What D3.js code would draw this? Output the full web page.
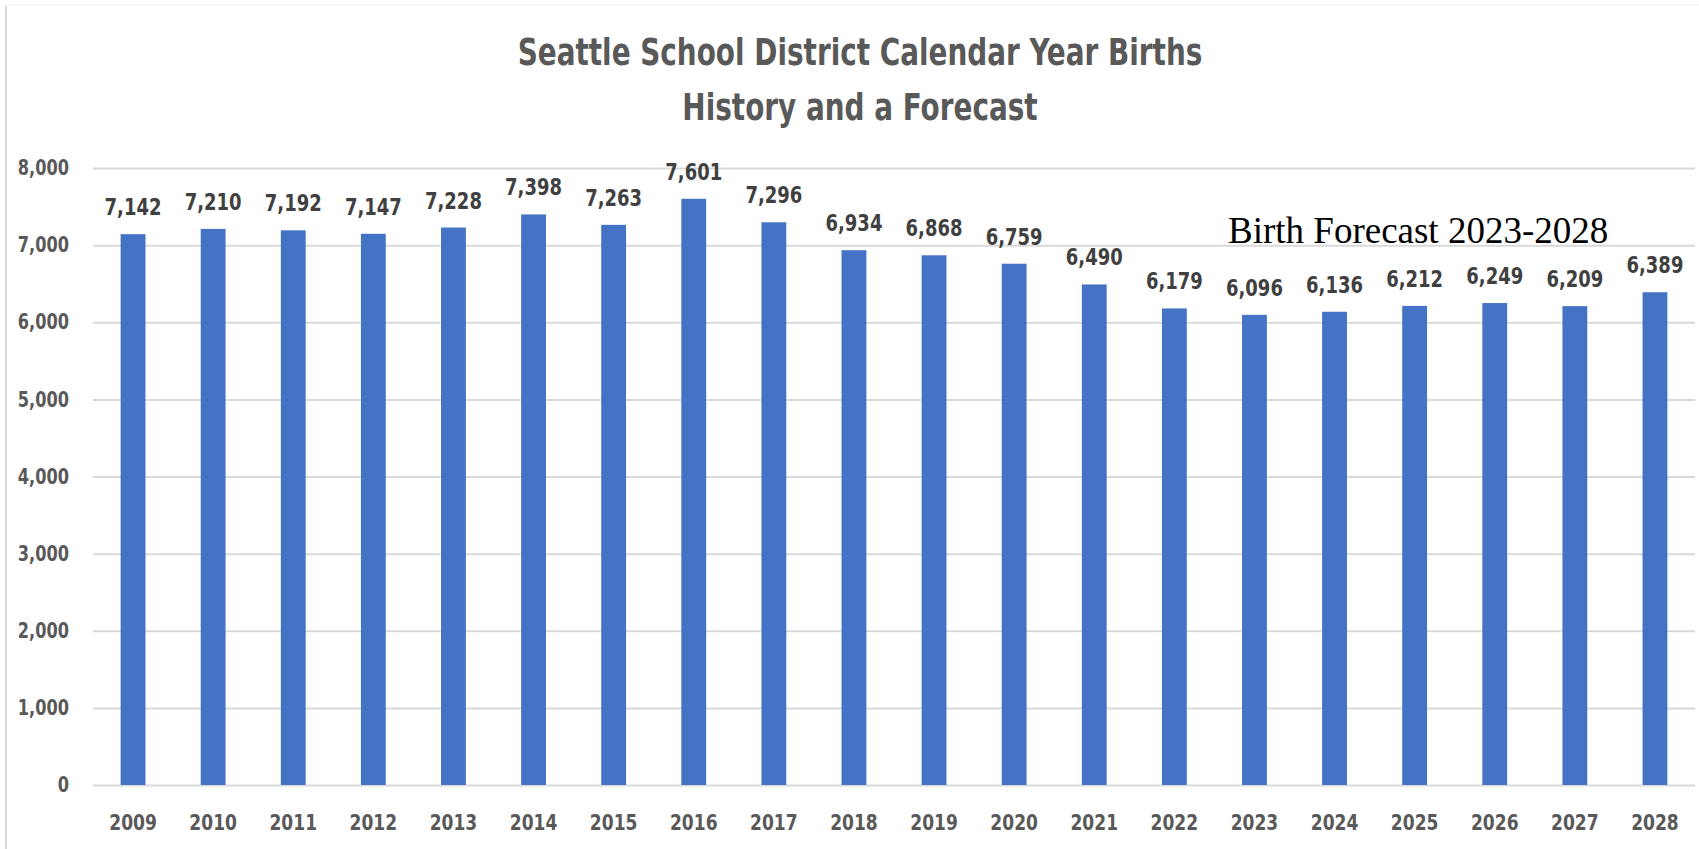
<!DOCTYPE html>
<html>
<head>
<meta charset="utf-8">
<script src="https://cdn.jsdelivr.net/npm/d3@7"></script>
<style>
    html, body { margin: 0; padding: 0; background: #fff; }
    #chart { width: 1699px; height: 849px; }
    .lbl { font-family: "Liberation Sans Narrow", "DejaVu Sans Condensed", "Open Sans", sans-serif; font-weight: bold; }
</style>
</head>
<body>
<div id="chart"></div>
<script>
// chart data
const years = ["2009", "2010", "2011", "2012", "2013", "2014", "2015", "2016", "2017", "2018",
    "2019", "2020", "2021", "2022", "2023", "2024", "2025", "2026", "2027", "2028"];
const births = [7142, 7210, 7192, 7147, 7228, 7398, 7263, 7601, 7296, 6934,
    6868, 6759, 6490, 6179, 6096, 6136, 6212, 6249, 6209, 6389];
const yTicks = [0, 1000, 2000, 3000, 4000, 5000, 6000, 7000, 8000];
const titleLines = ["Seattle School District Calendar Year Births", "History and a Forecast"];
const noteText = "Birth Forecast 2023-2028";

function renderBarChart() {
    const width = 1699;
    const height = 849;
    const left = 93, right = 1695, top = 168, bottom = 785;
    // the original screenshot is a bit stretched vertically
    const stretch = 1.15;

    const svg = d3
        .select("#chart")
        .append("svg")
        .attr("width", width)
        .attr("height", height);

    // faint frame of the pasted chart
    svg.append("line")
        .attr("x1", 6).attr("x2", 6).attr("y1", 5).attr("y2", height)
        .style("stroke", "#d9d9d9").style("stroke-width", 2);
    svg.append("line")
        .attr("x1", 6).attr("x2", width).attr("y1", 5).attr("y2", 5)
        .style("stroke", "#f4f4f4").style("stroke-width", 1.5);

    const x = d3
        .scaleBand()
        .domain(years)
        .range([left, right])
        .paddingInner(0.69)
        .paddingOuter(0.345);

    const y = d3.scaleLinear().domain([0, 8000]).range([bottom, top]);

    // y axis + gridlines
    const yAxis = svg
        .append("g")
        .attr("transform", `translate(${left},0)`)
        .call(
            d3.axisLeft(y)
                .tickValues(yTicks)
                .tickSize(-(right - left))
                .tickPadding(24)
                .tickFormat(d3.format(","))
        );
    yAxis.select(".domain").remove();
    yAxis.selectAll(".tick line")
        .style("stroke", "#d9d9d9")
        .style("stroke-width", 2);
    yAxis.selectAll(".tick text")
        .attr("class", "lbl")
        .attr("transform", `scale(1,${stretch})`)
        .style("font-size", "18px")
        .style("fill", "#595959");

    // x axis labels
    const xAxis = svg
        .append("g")
        .attr("transform", `translate(0,${bottom})`)
        .call(d3.axisBottom(x).tickSize(0).tickPadding(0));
    xAxis.select(".domain").remove();
    xAxis.selectAll(".tick text")
        .attr("class", "lbl")
        .attr("y", 45 / stretch)
        .attr("dy", 0)
        .attr("transform", `scale(1,${stretch})`)
        .style("font-size", "19px")
        .style("fill", "#595959");

    // bars
    svg.selectAll(".bar")
        .data(years)
        .enter()
        .append("rect")
        .attr("class", "bar")
        .attr("x", (d) => x(d))
        .attr("width", x.bandwidth())
        .attr("y", (d, i) => y(births[i]))
        .attr("height", (d, i) => y(0) - y(births[i]))
        .style("fill", "#4472c4");

    // value labels
    svg.selectAll(".val")
        .data(years)
        .enter()
        .append("g")
        .attr("class", "val")
        .attr("transform", (d, i) => `translate(${x(d) + x.bandwidth() / 2},${y(births[i]) - 19}) scale(1,${stretch})`)
        .append("text")
        .attr("class", "lbl")
        .attr("text-anchor", "middle")
        .style("font-size", "20px")
        .style("fill", "#404040")
        .text((d, i) => d3.format(",")(births[i]));

    // title
    svg.selectAll(".title")
        .data(titleLines)
        .enter()
        .append("g")
        .attr("class", "title")
        .attr("transform", (d, i) => `translate(860,${65 + i * 55}) scale(1,${stretch + 0.03})`)
        .append("text")
        .attr("class", "lbl")
        .attr("text-anchor", "middle")
        .style("font-size", "31px")
        .style("fill", "#595959")
        .text((d) => d);

    // forecast note
    svg.append("text")
        .attr("x", 1228)
        .attr("y", 243)
        .style("font-family", "'Liberation Serif', 'Times New Roman', serif")
        .style("font-size", "37px")
        .style("fill", "#000")
        .text(noteText);
}

renderBarChart();
</script>
</body>
</html>
